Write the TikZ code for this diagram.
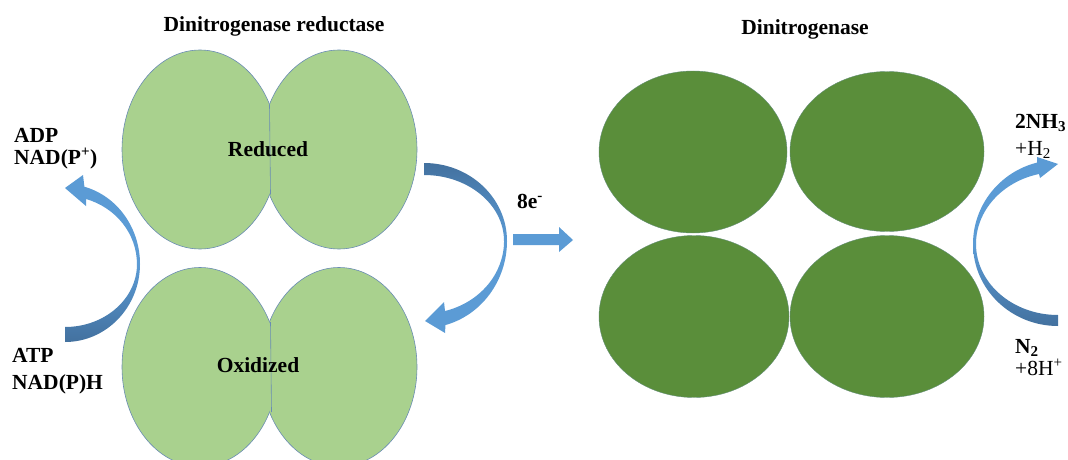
\documentclass[tikz,border=0pt]{standalone}
\usepackage{fontspec}
\setmainfont{Liberation Serif}
\usetikzlibrary{shapes.geometric}

\definecolor{subgreen}{HTML}{A9D18E}
\definecolor{molygreen}{HTML}{5A8E3A}
\definecolor{rimblue}{HTML}{6A8CB3}
\definecolor{flowblue}{HTML}{5B9BD5}
\definecolor{flowdark}{HTML}{43719F}

\begin{document}
\begin{tikzpicture}[x=1pt,y=-1pt,
  fe/.style={ellipse, fill=subgreen, minimum width=156pt, minimum height=199pt, inner sep=0pt},
  rim/.style={draw=rimblue, line width=0.6pt},
  mofe/.style={ellipse, draw=rimblue!50!molygreen, line width=0.4pt, fill=molygreen, inner sep=0pt},
  lbl/.style={font=\fontsize{21.5}{24}\selectfont\bfseries, inner sep=0pt},
  lblr/.style={font=\fontsize{21.5}{24}\selectfont, inner sep=0pt}]
\useasboundingbox (0,0) rectangle (1068,460);

% titles
\node[lbl, anchor=base] (ttlred) at (274,32) {Dinitrogenase reductase};
\node[lbl, anchor=base] (ttlnit) at (805,35) {Dinitrogenase};

% reductase, reduced and oxidized
\node[fe] (redl) at (200,149.5) {};
\node[fe] (redr) at (339,149.5) {};
\node[fe] (oxl) at (200,367) {};
\node[fe] (oxr) at (339,367) {};
% outline of each pair, joined by a straight seam
\begin{scope}
  \clip (0,0) rectangle (269.5,470);
  \draw[rim] (redl.center) ellipse[x radius=78, y radius=99.5];
  \draw[rim] (oxl.center) ellipse[x radius=78, y radius=99.5];
\end{scope}
\begin{scope}
  \clip (269.5,0) rectangle (600,470);
  \draw[rim] (redr.center) ellipse[x radius=78, y radius=99.5];
  \draw[rim] (oxr.center) ellipse[x radius=78, y radius=99.5];
\end{scope}
\draw[rim] (269.5,104.5) -- (270.5,194.5);
\draw[rim] (270.5,322) -- (271.5,412);
\node[lbl, anchor=base] (redtxt) at (268,156) {Reduced};
\node[lbl, anchor=base] (oxtxt) at (258,372) {Oxidized};

% dinitrogenase
\node[mofe, minimum width=188pt, minimum height=162pt] (mo1) at (693,152) {};
\node[mofe, minimum width=194pt, minimum height=160pt] (mo2) at (887,151.5) {};
\node[mofe, minimum width=190pt, minimum height=162pt] (mo3) at (694,316.5) {};
\node[mofe, minimum width=194pt, minimum height=162pt] (mo4) at (887,316.5) {};

% left curved arrow
\shade[top color=flowblue, bottom color=flowdark]
  (65,342) arc[start angle=90, end angle=0, x radius=75, y radius=78]
  -- (137,264) arc[start angle=0, end angle=90, x radius=72, y radius=63] -- cycle;
\fill[flowblue] (140,264) arc[start angle=0, end angle=-75, x radius=75, y radius=80]
  -- (83,175) -- (65,188) -- (86,206) -- (86,199)
  arc[start angle=-73, end angle=0, x radius=72, y radius=68] -- cycle;

% middle curved arrow
\shade[top color=flowdark, bottom color=flowblue]
  (424,163) arc[start angle=-90, end angle=0, x radius=83, y radius=78]
  -- (504,241) arc[start angle=0, end angle=-90, x radius=80, y radius=66] -- cycle;
\fill[flowblue] (507,241) arc[start angle=0, end angle=75, x radius=83, y radius=87]
  -- (445,333) -- (425,321) -- (444,302) -- (445,311)
  arc[start angle=74.8, end angle=0, x radius=80, y radius=72.5] -- cycle;

% straight arrow
\fill[flowblue] (513,234) -- (559,234) -- (559,227) -- (573,240) -- (559,252)
  -- (559,245) -- (513,245) -- cycle;

% right curved arrow
\shade[top color=flowblue, bottom color=flowdark]
  (1058,326) arc[start angle=90, end angle=180, x radius=85, y radius=82]
  -- (976,244) arc[start angle=180, end angle=90, x radius=82, y radius=71] -- cycle;
\fill[flowblue] (973,244) arc[start angle=180, end angle=255.7, x radius=85, y radius=84]
  -- (1037,157) -- (1058,164) -- (1040,178) -- (1039,174)
  arc[start angle=256.6, end angle=180, x radius=82, y radius=72] -- cycle;

% labels
\node[lbl, anchor=base west] (adp) at (14,142) {ADP};
\node[lbl, anchor=base west] (nadp) at (14,164.5) {NAD(P\textsuperscript{+})};
\node[lbl, anchor=base west] (atp) at (12,362) {ATP};
\node[lbl, anchor=base west] (nadph) at (12,389.5) {NAD(P)H};
\node[lbl, anchor=base west] (elec) at (517,208) {8e\textsuperscript{-}};
\node[lbl, anchor=base west] (nh) at (1015,128) {2NH\textsubscript{3}};
\node[lblr, anchor=base west] (hyd) at (1015,155) {+H\textsubscript{2}};
\node[lbl, anchor=base west] (ntwo) at (1015,353) {N\textsubscript{2}};
\node[lblr, anchor=base west] (prot) at (1015,375) {+8H\textsuperscript{+}};
\end{tikzpicture}
\end{document}
